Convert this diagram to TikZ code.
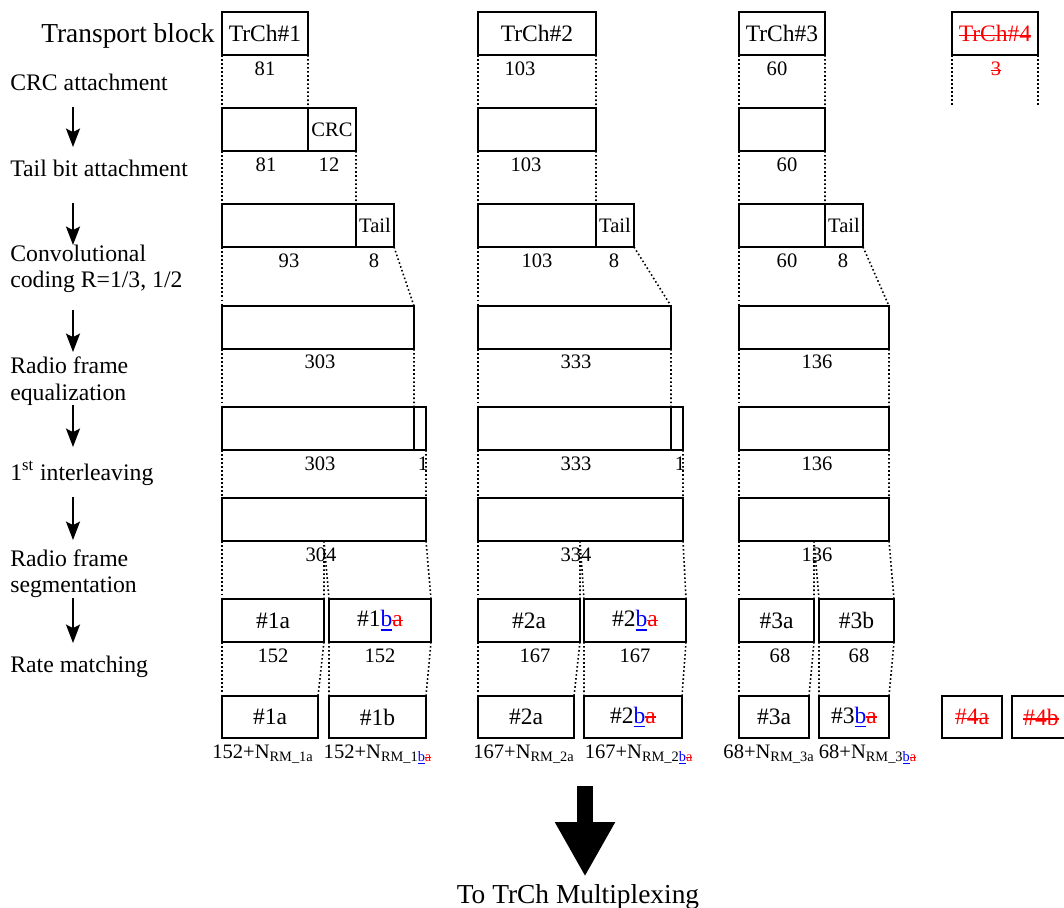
\documentclass[tikz,border=0pt]{standalone}
\usepackage{fontspec}
\setmainfont{Liberation Serif}
\usetikzlibrary{arrows.meta,fit}
\newcommand{\fsz}[1]{\fontsize{#1}{#1}\selectfont}
\newcommand{\bnew}{\textcolor{blue}{\setbox0\hbox{b}\rlap{\rule[-0.17em]{\wd0}{0.07em}}\box0}}
\newcommand{\adel}[1]{\textcolor{red}{\setbox0\hbox{#1}\rlap{\rule[0.22em]{\wd0}{0.07em}}\box0}}
\begin{document}
\begin{tikzpicture}[x=0.02cm, y=-0.02cm,
  blk/.style={draw, line width=1.1pt, inner sep=0pt, outer sep=0pt},
  big/.style={inner sep=0pt, font=\fsz{13.4}},
  small/.style={inner sep=0pt, font=\fsz{11.7}},
  num/.style={inner sep=0pt, font=\fsz{11.7}},
  stage/.style={inner sep=0pt, anchor=base west, font=\fsz{13.5}},
  guide/.style={line width=0.9pt, dash pattern=on 0.9pt off 1.4pt},
  flow/.style={line width=0.9pt, -{Stealth[length=10.5pt, width=8pt, inset=2pt]}},
  bigarr/.style={line width=9pt, -{Triangle[length=31pt, width=32pt]}}]
\useasboundingbox (0,0) rectangle (1064,908);

% processing steps
\node[stage, font=\fsz{15.6}, anchor=base east] (ltb) at (215,43) {Transport block};
\node[stage] (lcrc) at (10,91) {CRC attachment};
\node[stage] (ltail) at (10,177) {Tail bit attachment};
\node[stage] (lconv) at (10,262) {Convolutional};
\node[stage] (lconv2) at (10,288) {coding R=1/3, 1/2};
\node[stage] (leq) at (10,374) {Radio frame};
\node[stage] (leq2) at (10,400) {equalization};
\node[stage] (lil) at (10,480) {1\textsuperscript{st} interleaving};
\node[stage] (lseg) at (10,566) {Radio frame};
\node[stage] (lseg2) at (10,592) {segmentation};
\node[stage] (lrm) at (10,672) {Rate matching};
\foreach \ya/\yb in {107/147, 203/245, 310/352, 405/447, 497/540, 598/643}
  \draw[flow] (73,\ya) -- (73,\yb);

% transport blocks
\node[blk, fit={(222,12) (308,55)}, label={[big]center:TrCh\#1}] (tb1) {};
\node[blk, fit={(478,12) (596,55)}, label={[big]center:TrCh\#2}] (tb2) {};
\node[blk, fit={(739,12) (825,55)}, label={[big]center:TrCh\#3}] (tb3) {};
\node[blk, fit={(952,12) (1038,55)}, label={[big]center:\adel{TrCh\#4}}] (tb4) {};
\node[num] (tb1n) at (265,69) {81};
\node[num] (tb2n) at (520,69) {103};
\node[num] (tb3n) at (777,69) {60};
\node[num] (tb4n) at (996,69) {\adel{3}};

% CRC attachment
\node[blk, fit={(222,108) (308,151)}] (cd1) {};
\node[blk, fit={(308,108) (356,151)}, label={[small]center:CRC}] (crc1) {};
\node[blk, fit={(478,108) (596,151)}] (cd2) {};
\node[blk, fit={(739,108) (825,151)}] (cd3) {};
\node[num] (cd1n) at (266,165) {81};
\node[num] (crc1n) at (329,165) {12};
\node[num] (cd2n) at (526,165) {103};
\node[num] (cd3n) at (787,165) {60};

% tail bits
\node[blk, fit={(222,204) (356,247)}] (td1) {};
\node[blk, fit={(356,204) (394,247)}, label={[small]center:Tail}] (tail1) {};
\node[blk, fit={(478,204) (596,247)}] (td2) {};
\node[blk, fit={(596,204) (634,247)}, label={[small]center:Tail}] (tail2) {};
\node[blk, fit={(739,204) (825,247)}] (td3) {};
\node[blk, fit={(825,204) (863,247)}, label={[small]center:Tail}] (tail3) {};
\node[num] (td1n) at (289,261) {93};
\node[num] (tail1n) at (374,261) {8};
\node[num] (td2n) at (537,261) {103};
\node[num] (tail2n) at (614,261) {8};
\node[num] (td3n) at (787,261) {60};
\node[num] (tail3n) at (843,261) {8};

% coding
\node[blk, fit={(222,306) (414,349)}] (cc1) {};
\node[blk, fit={(478,306) (671,349)}] (cc2) {};
\node[blk, fit={(739,306) (889,349)}] (cc3) {};
\node[num] (cc1n) at (320,362) {303};
\node[num] (cc2n) at (576,362) {333};
\node[num] (cc3n) at (817,362) {136};

% equalization
\node[blk, fit={(222,407) (414,450)}] (eq1) {};
\node[blk, fit={(414,407) (426,450)}] (pad1) {};
\node[blk, fit={(478,407) (671,450)}] (eq2) {};
\node[blk, fit={(671,407) (683,450)}] (pad2) {};
\node[blk, fit={(739,407) (889,450)}] (eq3) {};
\node[num] (eq1n) at (320,464) {303};
\node[num] (pad1n) at (423,464) {1};
\node[num] (eq2n) at (576,464) {333};
\node[num] (pad2n) at (680,464) {1};
\node[num] (eq3n) at (817,464) {136};

% interleaving
\node[blk, fit={(222,498) (426,541)}] (il1) {};
\node[blk, fit={(478,498) (683,541)}] (il2) {};
\node[blk, fit={(739,498) (889,541)}] (il3) {};
\node[num] (il1n) at (321,555) {304};
\node[num] (il2n) at (576,555) {334};
\node[num] (il3n) at (817,555) {136};

% segmentation
\node[blk, fit={(222,599) (324,642)}, label={[big]center:\#1a}] (sg1a) {};
\node[blk, fit={(329,599) (431,642)}, label={[big]center:\#1\bnew\adel{a}}] (sg1b) {};
\node[blk, fit={(478,599) (580,642)}, label={[big]center:\#2a}] (sg2a) {};
\node[blk, fit={(584,599) (686,642)}, label={[big]center:\#2\bnew\adel{a}}] (sg2b) {};
\node[blk, fit={(739,599) (814,642)}, label={[big]center:\#3a}] (sg3a) {};
\node[blk, fit={(819,599) (894,642)}, label={[big]center:\#3b}] (sg3b) {};
\node[num] (sg1an) at (273,656) {152};
\node[num] (sg1bn) at (380,656) {152};
\node[num] (sg2an) at (535,656) {167};
\node[num] (sg2bn) at (635,656) {167};
\node[num] (sg3an) at (780,656) {68};
\node[num] (sg3bn) at (859,656) {68};

% rate matching
\node[blk, fit={(222,696) (318,738)}, label={[big]center:\#1a}] (rm1a) {};
\node[blk, fit={(329,696) (426,738)}, label={[big]center:\#1b}] (rm1b) {};
\node[blk, fit={(478,696) (574,738)}, label={[big]center:\#2a}] (rm2a) {};
\node[blk, fit={(584,696) (682,738)}, label={[big]center:\#2\bnew\adel{a}}] (rm2b) {};
\node[blk, fit={(739,696) (809,738)}, label={[big]center:\#3a}] (rm3a) {};
\node[blk, fit={(819,696) (889,738)}, label={[big]center:\#3\bnew\adel{a}}] (rm3b) {};
\node[blk, fit={(942,696) (1002,738)}, label={[big]center:\adel{\#4a}}] (rm4a) {};
\node[blk, fit={(1012,696) (1070,738)}, label={[big]center:\adel{\#4b}}] (rm4b) {};
\node[num, anchor=base] (rm1an) at (263,758) {152+N\textsubscript{RM\_1a}};
\node[num, anchor=base] (rm1bn) at (378,758) {152+N\textsubscript{RM\_1\bnew\adel{a}}};
\node[num, anchor=base] (rm2an) at (524,758) {167+N\textsubscript{RM\_2a}};
\node[num, anchor=base] (rm2bn) at (639,758) {167+N\textsubscript{RM\_2\bnew\adel{a}}};
\node[num, anchor=base] (rm3an) at (769,758) {68+N\textsubscript{RM\_3a}};
\node[num, anchor=base] (rm3bn) at (868,758) {68+N\textsubscript{RM\_3\bnew\adel{a}}};

% dotted guides
\foreach \c in {1,2,3}
  \draw[guide] (tb\c.south west) -- (cd\c.north west)
               (cd\c.south west) -- (td\c.north west)
               (td\c.south west) -- (cc\c.north west)
               (cc\c.south west) -- (eq\c.north west)
               (eq\c.south west) -- (il\c.north west)
               (il\c.south west) -- (sg\c a.north west)
               (sg\c a.south west) -- (rm\c a.north west);
\foreach \c in {1,2,3} {
  \coordinate (mid\c) at (sg\c a.north east |- il\c.south);
  \draw[guide] (il\c.south east) -- (sg\c b.north east)
               (mid\c) -- (sg\c a.north east)
               (mid\c) -- (sg\c b.north west)
               (sg\c a.south east) -- (rm\c a.north east)
               (sg\c b.south west) -- (rm\c b.north west)
               (sg\c b.south east) -- (rm\c b.north east);
}
\draw[guide] (tb1.south east) -- (cd1.north east)
             (crc1.south east) -- (td1.north east)
             (tail1.south east) -- (cc1.north east)
             (cc1.south east) -- (eq1.north east)
             (pad1.south east) -- (il1.north east);
\draw[guide] (tb2.south east) -- (cd2.north east)
             (cd2.south east) -- (td2.north east)
             (tail2.south east) -- (cc2.north east)
             (cc2.south east) -- (eq2.north east)
             (pad2.south east) -- (il2.north east);
\draw[guide] (tb3.south east) -- (cd3.north east)
             (cd3.south east) -- (td3.north east)
             (tail3.south east) -- (cc3.north east)
             (cc3.south east) -- (eq3.north east)
             (eq3.south east) -- (il3.north east);
\coordinate (e4l) at (952,106);
\coordinate (e4r) at (1038,106);
\draw[guide] (tb4.south west) -- (e4l) (tb4.south east) -- (e4r);

% output
\node[inner sep=0pt, anchor=base, font=\fsz{15.6}] (mux) at (578,903) {To TrCh Multiplexing};
\coordinate (src) at (585,786);
\draw[bigarr, shorten >=4pt] (src) -- (src |- mux.north);
\end{tikzpicture}
\end{document}
